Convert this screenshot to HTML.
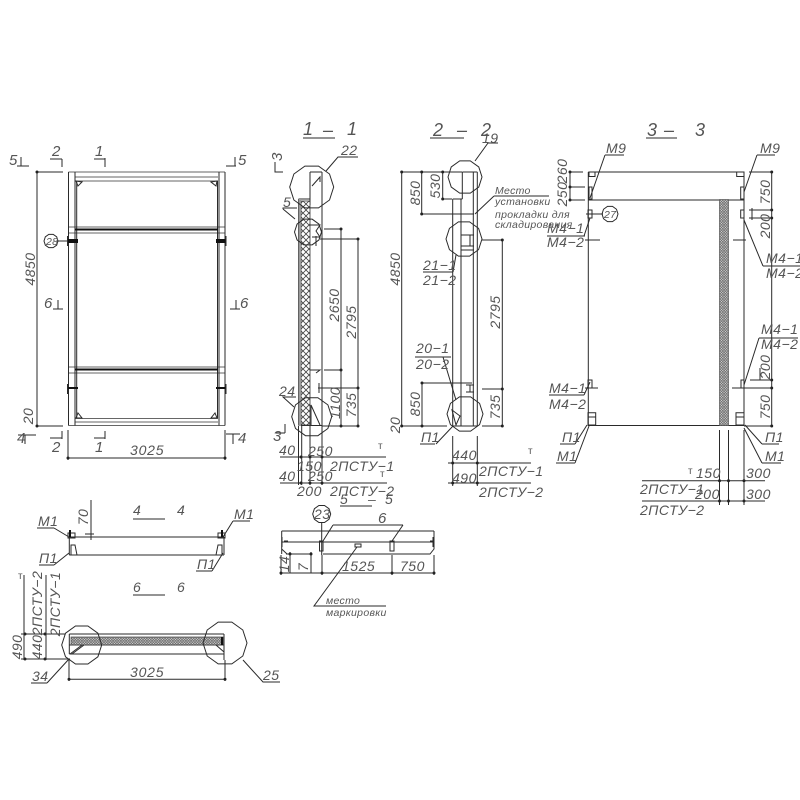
<!DOCTYPE html>
<html><head><meta charset="utf-8">
<style>
html,body{margin:0;padding:0;background:#fff;width:800px;height:800px;overflow:hidden}
svg{display:block}
.l{fill:none;stroke:#2a2a2a;stroke-width:1}
.g{fill:none;stroke:#666;stroke-width:1}
.b{fill:none;stroke:#111;stroke-width:2}
.d{fill:none;stroke:#222;stroke-width:3;stroke-linecap:round}
text{font-family:"Liberation Sans",sans-serif;font-style:italic;fill:#555;font-size:14px;letter-spacing:.5px}
.s{font-size:10.5px;letter-spacing:.3px}
.m{text-anchor:middle}
.t{font-size:18px;letter-spacing:0}
.k{font-size:15px;letter-spacing:0}
.u{font-style:normal;font-size:10px}
</style></head><body>
<svg width="800" height="800" viewBox="0 0 800 800" xmlns="http://www.w3.org/2000/svg">
<defs>
<pattern id="h1" width="6" height="6" patternUnits="userSpaceOnUse"><rect width="6" height="6" fill="#fff"/><path d="M0 0L6 6M6 0L0 6" stroke="#444" stroke-width=".8"/></pattern>
<pattern id="h2" width="2.6" height="2.6" patternUnits="userSpaceOnUse"><rect width="2.6" height="2.6" fill="#e2e2e2"/><path d="M0 0L2.6 2.6M2.6 0L0 2.6" stroke="#666" stroke-width=".7"/></pattern>
<polygon id="p" points="1,0 .81,.59 .31,.95 -.31,.95 -.81,.59 -1,0 -.81,-.59 -.31,-.95 .31,-.95 .81,-.59" fill="none" stroke="#2a2a2a" stroke-width="1" vector-effect="non-scaling-stroke"/>
</defs>

<!-- FRONT VIEW -->
<path class="g" d="M68.5 172H225M68.5 425.5H225M75 177H218M75 181H218M75 418.5H218M75 422H218M68 227H225M68 233H225M68 367H225M68 373H225"/>
<path class="l" d="M68.5 172V425.5M75 172V425.5M76.7 181V418M217.5 181V418M219 172V425.5M225 172V425.5"/>
<path class="l" d="M76 181L82 182L78 186ZM217 181L211 182L216 186ZM76 418L78 413L82 418ZM217 418L215 413L211 418Z"/>
<path class="b" d="M75 229.5H218M75 369.5H218"/>
<path class="b" d="M68 240H78M68 242H78M216 240H226M216 242H226M68 388H78M216 388H226"/>
<path class="l" d="M67.500 236V246M226 236V246M67.500 384V394M226 384V394M57 241H68"/>
<path class="l" d="M37 172V426M36 172H63M36 426H63M68 458H225M68 430V460M225 430V460"/>
<path class="d" d="M37 172h0M37 426h0M68 458h0M225 458h0"/>
<use href="#p" transform="translate(51 241) scale(7)"/>
<text class="s" x="46" y="245">28</text>
<text class="m" transform="translate(35 269) rotate(-90)">4850</text>
<text class="m" transform="translate(33 416) rotate(-90)">20</text>
<text x="130" y="455" textLength="34">3025</text>
<path class="l" d="M17 166H29M21 157V166M50 159H62M62 159V167M94 159H105M105 158V167M226 166H236M235 157V166M53 309H63M58 300V309M230 309H240M236 300V309M18 435H36M25 435V444M50 438H62M62 431V439M94 438H105M105 431V439M226 434H240M233 434V444"/>
<text class="k" x="9" y="165">5</text><text class="k" x="52" y="156">2</text><text class="k" x="95" y="156">1</text><text class="k" x="238" y="165">5</text>
<text class="k" x="44" y="308">6</text><text class="k" x="240" y="308">6</text><text class="k" x="17" y="443">4</text><text class="k" x="52" y="452">2</text><text class="k" x="95" y="452">1</text><text class="k" x="238" y="443">4</text>

<!-- 1-1 -->
<text class="t" x="303" y="135">1</text><text class="t" x="323" y="136">–</text><text class="t" x="347" y="135">1</text>
<path class="l" d="M303 138H335"/>
<path class="l" d="M310 172H322M310 172V205M322 172V425.500M298.500 199H310M298.500 199V425.500M298.500 425.500H322"/>
<rect x="301" y="201" width="9" height="224" fill="url(#h1)" stroke="#333" stroke-width=".8"/>
<rect x="298.500" y="199" width="2.500" height="227" fill="#999"/>
<path class="l" d="M312 186L320 177V182M310 225H320L316 231L320 237H312M310 370H320L316 373M311 425V405L320 425"/>
<use href="#p" transform="translate(311.700 187) scale(22)"/>
<use href="#p" transform="translate(308 232) scale(13.500)"/>
<use href="#p" transform="translate(311.700 416.700) scale(20)"/>
<path class="l" d="M326 171L338 157H358M295 219L283 209M283 209V208H297M294 407L283 397H296"/>
<path class="l" d="M341 229V426M358 239V426M324 229H342M320 239H358M324 370H342M318 388H358M322 426H358M280 457H386M280 483H387M298.500 426V485M301.700 426V485M310 426V485M322 426V485M316 236V246M319 383V393"/>
<path class="d" d="M341 229h0M358 239h0M341 370h0M358 388h0M341 426h0M358 426h0M301 457h0M310 457h0M322 457h0M301 483h0M310 483h0M322 483h0"/>
<path class="l" d="M275 162V172H283M276 433H285M285 424V433"/>
<text class="k" transform="translate(282 161) rotate(-90)">3</text><text class="k" x="273" y="441">3</text>
<text x="341" y="155">22</text><text x="283" y="207">5</text><text x="279" y="396">24</text>
<text class="m" transform="translate(339 305) rotate(-90)">2650</text>
<text class="m" transform="translate(356 322) rotate(-90)">2795</text>
<text class="m" transform="translate(340 403) rotate(-90)">1100</text>
<text class="m" transform="translate(356 405) rotate(-90)">735</text>
<text x="279" y="455">40</text><text x="308" y="456">250</text><text x="297" y="471">150</text><text x="330" y="471">2ПСТУ−1</text>
<text x="279" y="481">40</text><text x="308" y="481">250</text><text x="297" y="496">200</text><text x="330" y="496">2ПСТУ−2</text>
<text class="u" x="378" y="449">т</text><text class="u" x="380" y="477">т</text>

<!-- 2-2 -->
<text class="t" x="433" y="136">2</text><text class="t" x="457" y="136">–</text><text class="t" x="481" y="136">2</text>
<path class="l" d="M430 138H464"/>
<path class="l" d="M462.300 172H477.300M462.300 172V199M452.700 199H462.300M452.700 199V426M461 199V426M473.300 172V426M477.300 172V426M452.700 426H477.300"/>
<path class="l" d="M461 235H474M461 246H474M461 250H474M470 235V246M466 385H474M466 392H474M470 385V392M452 410L460 416L456 425Z"/>
<use href="#p" transform="translate(465 177) scale(17)"/>
<use href="#p" transform="translate(464 239) scale(18)"/>
<use href="#p" transform="translate(465 414) scale(18)"/>
<path class="l" d="M475 161L488 143H498M494 196H549M494 196L475 214M423 272H453M453 272L456 255M415 357H451M443 357L456 400M420 444H435M436 444L453 426"/>
<path class="l" d="M401.700 172V426M421.700 172V214M442.700 172V199M401 172H462M421 214H474M442 199H452M502.300 240V426M482 240H502M482 389H502M482 426H502M422 383V426M422 383H472M401 426H447M448 463H531M448 483H531M452.700 436V486M477.300 436V486"/>
<path class="d" d="M401.700 172h0M421.700 172h0M442.700 172h0M421.700 214h0M442.700 199h0M502.300 240h0M502.300 389h0M502.300 426h0M422 383h0M422 426h0M401.700 426h0M452.700 463h0M477.300 463h0M452.700 483h0M477.300 483h0"/>
<text class="m" transform="translate(400 269) rotate(-90)">4850</text>
<text class="m" transform="translate(420 193) rotate(-90)">850</text>
<text class="m" transform="translate(440 186) rotate(-90)">530</text>
<text class="m" transform="translate(500 312) rotate(-90)">2795</text>
<text class="m" transform="translate(420 404) rotate(-90)">850</text>
<text class="m" transform="translate(500 407) rotate(-90)">735</text>
<text class="m" transform="translate(400 425) rotate(-90)">20</text>
<text x="482" y="143">19</text>
<text class="s" x="495" y="194">Место</text><text class="s" x="495" y="205">установки</text><text class="s" x="495" y="218">прокладки для</text><text class="s" x="495" y="228">складирования</text>
<text x="423" y="270">21−1</text><text x="423" y="285">21−2</text>
<text x="416" y="353">20−1</text><text x="416" y="369">20−2</text>
<text x="421" y="442">П1</text>
<text x="452" y="460">440</text><text x="452" y="483">490</text>
<text x="479" y="476">2ПСТУ−1</text><text x="479" y="497">2ПСТУ−2</text>
<text class="u" x="528" y="454">т</text>

<!-- 3-3 -->
<text class="t" x="647" y="136">3</text><text class="t" x="664" y="136">–</text><text class="t" x="695" y="136">3</text>
<path class="l" d="M646 138H677"/>
<path class="l" d="M588.300 172H744M588.300 200H744M588.300 172V426M744 172V426M588.300 425.500H744"/>
<rect x="719.500" y="199.500" width="9" height="226" fill="url(#h2)" stroke="#555" stroke-width=".7"/>
<path class="l" d="M589 172H595V176.500H589ZM736.700 172H744V176.500H736.700ZM589 187H592V199H589ZM740.700 187H744V199H740.700ZM588 210H592V218H588ZM740.700 210H744V218H740.700ZM588 412.700H595.700V425H588ZM588 417H595.700M736 412.700H744V425H736ZM736 417H744M741 380H744V388H741ZM588 380H592V388H588Z"/>
<path class="l" d="M570 172V200M570 172H583M570 187H585M570 200H585M771.700 172V426M749 172H772M749 210H772M749 218H772M733 240H746M585 240H600M732 388H772M585 388H598M750 380H772M750 426H772M752 208V220M760 380V368M744 426H772M719.500 430V505M728.500 430V505M744 430V505M642 480.700H765M642 501H765"/>
<path class="l" d="M605 155H624M605 155L590 198M757 155H775M757 155L744 192M586 214H603M547 236H585M584 236L590 218M763 266H800M763 266L744 220M759 338H798M759 338L744 385M549 395H584M584 395L590 382M560 444H575M575 444L587 425M556 463H575M575 463L589 426M762 444H779M762 444L745 425M762 463H781M762 463L744 428"/>
<path class="d" d="M570 172h0M570 187h0M570 200h0M771.700 172h0M771.700 210h0M771.700 218h0M771.700 380h0M771.700 388h0M771.700 426h0M719.500 480.700h0M728.500 480.700h0M744 480.700h0M719.500 501h0M728.500 501h0M744 501h0"/>
<use href="#p" transform="translate(610 214) scale(8)"/>
<text class="s" x="604" y="218">27</text>
<text x="606" y="153">М9</text><text x="760" y="153">М9</text>
<text class="m" transform="translate(567 171) rotate(-90)">260</text>
<text class="m" transform="translate(567 194) rotate(-90)">250</text>
<text class="m" transform="translate(770 192) rotate(-90)">750</text>
<text class="m" transform="translate(770 226) rotate(-90)">200</text>
<text class="m" transform="translate(770 367) rotate(-90)">200</text>
<text class="m" transform="translate(770 407) rotate(-90)">750</text>
<text x="547" y="233">М4−1</text><text x="547" y="247">М4−2</text>
<text x="766" y="263">М4−1</text><text x="766" y="278">М4−2</text>
<text x="761" y="334">М4−1</text><text x="761" y="349">М4−2</text>
<text x="549" y="393">М4−1</text><text x="549" y="409">М4−2</text>
<text x="562" y="442">П1</text><text x="557" y="461">М1</text><text x="765" y="442">П1</text><text x="765" y="461">М1</text>
<text x="696" y="478">150</text><text x="746" y="478">300</text><text x="695" y="499">200</text><text x="746" y="499">300</text>
<text x="640" y="494">2ПСТУ−1</text><text x="640" y="515">2ПСТУ−2</text>
<text class="u" x="688" y="474">т</text>

<!-- 4-4 -->
<text x="133" y="515">4</text><text x="177" y="515">4</text>
<path class="l" d="M133 519H165"/>
<path class="l" d="M69.300 537H224M69.300 555H224M69.300 537V555M224 537V555M71 545V555H77L75 545ZM222 545V555H216L218 545ZM68 533H75V538H68ZM218 533H225V538H218ZM91 500V540M85 534H94"/>
<path class="b" d="M70 530V537M222 530V537"/>
<path class="l" d="M37 528H54M54 528L69 537M39 565H54M54 565L69 553M233 521H250M233 521L223 537M196 571H212M212 571L223 553"/>
<text x="38" y="526">М1</text><text x="39" y="563">П1</text><text x="234" y="519">М1</text><text x="197" y="569">П1</text>
<text class="m" transform="translate(88 517) rotate(-90)">70</text>

<!-- 6-6 -->
<text x="133" y="592">6</text><text x="177" y="592">6</text>
<path class="l" d="M133 595H165"/>
<path class="l" d="M69.300 634H224M69.300 634V654M224 634V654M69.300 654H224M69.300 645H224"/>
<rect x="71" y="637" width="152" height="8" fill="url(#h2)" stroke="#444" stroke-width=".7"/>
<path class="b" d="M222 637V645"/>
<path class="l" d="M70 654L82 645M84 645L72 654M216 645L224 652V660M24 575V660M46 575V660M21 634H65M21 659H70M69 660V681M225 660V681M69 679.300H225"/>
<path class="d" d="M25 634h0M25 659h0M45 634h0M45 659h0M69 679.300h0M225 679.300h0"/>
<use href="#p" transform="translate(81.700 645) scale(20)"/>
<use href="#p" transform="translate(225 643) scale(22)"/>
<path class="l" d="M31 683H47M47 683L69 659M243 660L263 682H280"/>
<text x="32" y="681">34</text><text x="263" y="680">25</text><text x="130" y="677" textLength="34">3025</text>
<text class="m" transform="translate(22 647) rotate(-90)">490</text>
<text class="m" transform="translate(42 647) rotate(-90)">440</text>
<text class="m" transform="translate(42 603) rotate(-90)">2ПСТУ−2</text>
<text class="m" transform="translate(60 604) rotate(-90)">2ПСТУ−1</text>
<text class="u" x="18" y="579">т</text>

<!-- 5-5 -->
<text x="340" y="504">5</text><text x="368" y="504">–</text><text x="385" y="504">5</text>
<path class="l" d="M340 506H372"/>
<path class="l" d="M281.700 531H434M281.700 531V554M434 531V549L430 554H408M281.700 542H434M281.700 549L287 554H298M323 554H430M319.500 541H323V551H319.500ZM390 541H394V551H390ZM355 544H361V547H355ZM333 525H403M333 525L323 541M403 525L392 541M321.700 523V555M357 547L314 606H386"/>
<path class="l" d="M282 537V547M433 537V547M284 541H288M430 541H434M290 552V573M311 552V573M286 554H312M281 573H434M281 555V575M322 555V575M392 555V575M434 555V575"/>
<path class="d" d="M290 554h0M311 554h0M281 573h0M322 573h0M392 573h0M434 573h0"/>
<use href="#p" transform="translate(321.700 514) scale(9)"/>
<text x="314" y="519">23</text><text class="k" x="378" y="523">6</text>
<text class="m" transform="translate(289 564) rotate(-90)">14</text>
<text class="m" transform="translate(308 567) rotate(-90)">7</text>
<text x="342" y="571">1525</text><text x="400" y="571">750</text>
<text class="s" x="326" y="604">место</text><text class="s" x="326" y="616">маркировки</text>
</svg>
</body></html>
